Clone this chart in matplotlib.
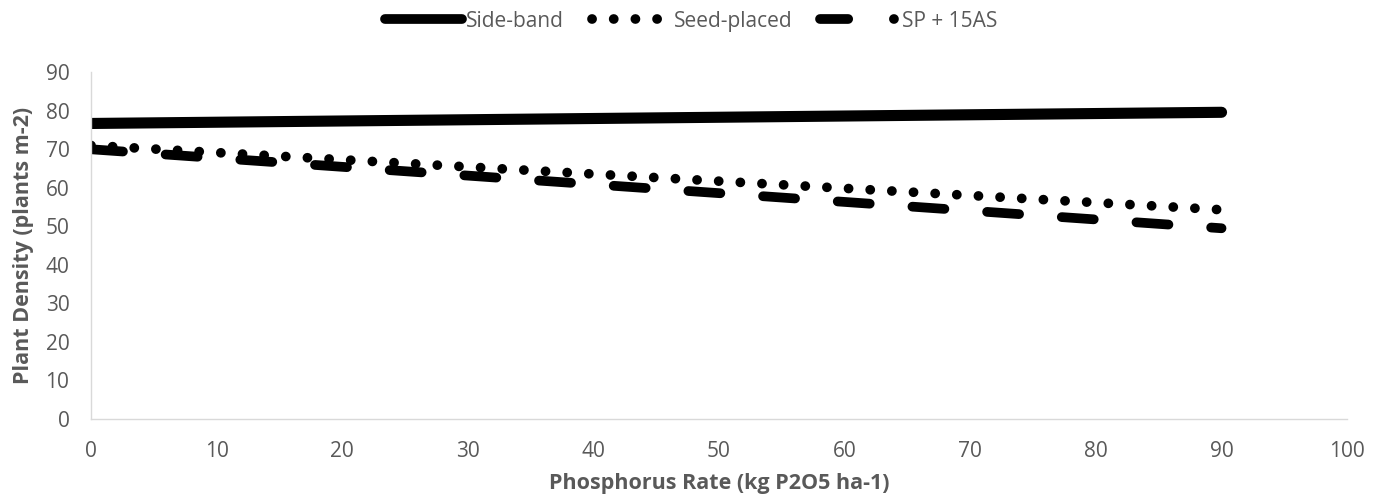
import matplotlib.pyplot as plt
from matplotlib.lines import Line2D

plt.rcParams['font.family'] = ['Open Sans', 'DejaVu Sans']

# trend lines (endpoints at 0 and 90 kg P2O5/ha)
p_rate = [0, 90]
side_band = [76.7, 79.6]
seed_placed = [71.0, 54.3]
sp_15as = [70.0, 49.5]
series_names = ['Side-band', 'Seed-placed', 'SP + 15AS']

gray = '#595959'

fig = plt.figure(figsize=(13.82, 5.04), dpi=100)
ax = fig.add_axes([0.0658, 0.1687, 0.909, 0.688])

ax.plot(p_rate, side_band, color='black', lw=8, solid_capstyle='round')
ax.plot(p_rate, seed_placed, color='black', lw=7, dashes=(0.01, 2.22),
        dash_capstyle='round')
ax.plot(p_rate, sp_15as, color='black', lw=7, dashes=(3.3, 4.4),
        dash_capstyle='round')

ax.set_xlim(0, 100)
ax.set_ylim(0, 90)
ax.set_xticks(range(0, 101, 10))
ax.set_yticks(range(0, 91, 10))
ax.tick_params(length=0, labelsize=15, labelcolor=gray)
ax.tick_params(axis='x', pad=16)
ax.tick_params(axis='y', pad=15.5)
for s in ['top', 'right']:
    ax.spines[s].set_visible(False)
for s in ['left', 'bottom']:
    ax.spines[s].set_color('#d9d9d9')
    ax.spines[s].set_linewidth(1)

ax.set_xlabel('Phosphorus Rate (kg P2O5 ha-1)', fontsize=15.5, fontweight='bold',
              color=gray, labelpad=8)
ax.set_ylabel('Plant Density (plants m-2)', fontsize=15.5, fontweight='bold',
              color=gray, labelpad=8)

# legend handles (the SP + 15AS key is drawn dash-dot as in the original)
handles = [
    Line2D([], [], color='black', lw=7, solid_capstyle='round'),
    Line2D([], [], color='black', lw=7, dashes=(0.01, 2.22), dash_capstyle='round'),
    Line2D([], [], color='black', lw=7, dashes=(2.9, 4.7, 0.01, 10),
           dash_capstyle='round'),
]
fig.legend(handles, series_names, loc='upper center', bbox_to_anchor=(0.5, 1.016),
           ncol=3, frameon=False, fontsize=15, labelcolor=gray,
           handlelength=3.7, handletextpad=0.2, columnspacing=1.35)

plt.savefig('out.png', dpi=100)
